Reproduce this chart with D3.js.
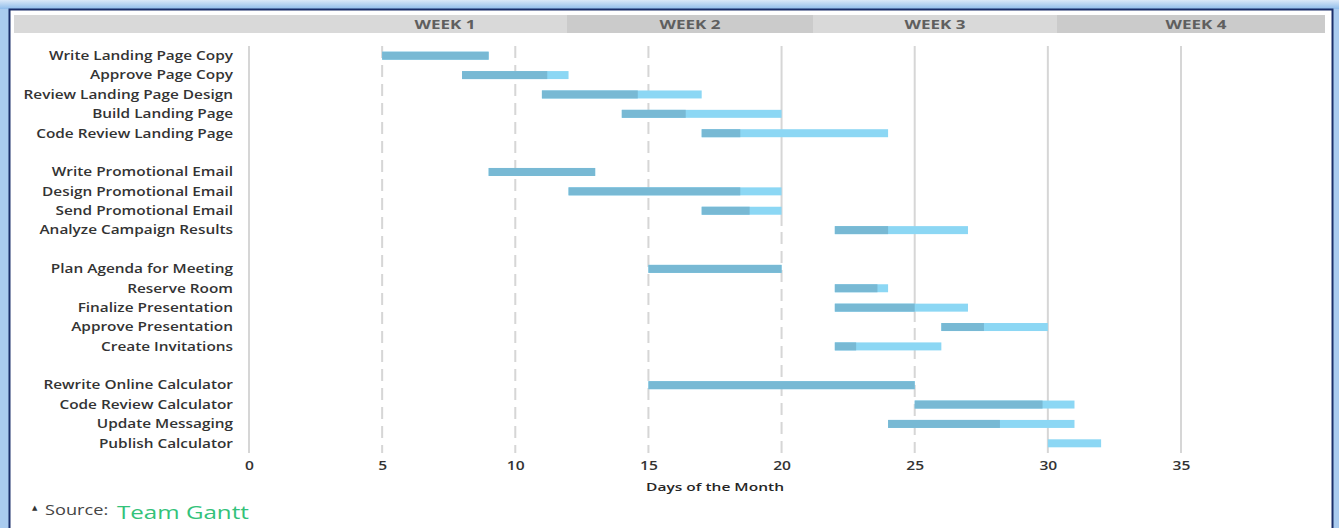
<!DOCTYPE html>
<html>
<head>
<meta charset="utf-8">
<script src="https://cdn.jsdelivr.net/npm/d3@7"></script>
<style>
  html, body { margin: 0; padding: 0; background: #ffffff; }
  svg { display: block; }
  text { font-family: "Open Sans", "DejaVu Sans", sans-serif; }
</style>
</head>
<body>
<script>
// ---------- DATA ----------
const tasks = [
  "Write Landing Page Copy", "Approve Page Copy", "Review Landing Page Design",
  "Build Landing Page", "Code Review Landing Page", "",
  "Write Promotional Email", "Design Promotional Email", "Send Promotional Email",
  "Analyze Campaign Results", " ",
  "Plan Agenda for Meeting", "Reserve Room", "Finalize Presentation",
  "Approve Presentation", "Create Invitations", "  ",
  "Rewrite Online Calculator", "Code Review Calculator", "Update Messaging",
  "Publish Calculator"
];
// start day, day where completed part ends, end day (null for spacer rows)
const startDay = [5, 8, 11, 14, 17, null, 9, 12, 17, 22, null, 15, 22, 22, 26, 22, null, 15, 25, 24, 30];
const doneDay  = [9, 11.2, 14.6, 16.4, 18.45, null, 13, 18.45, 18.8, 24, null, 20, 23.6, 25, 27.6, 22.8, null, 25, 29.8, 28.2, 30];
const endDay   = [9, 12, 17, 20, 24, null, 13, 20, 20, 27, null, 20, 24, 27, 30, 26, null, 25, 31, 31, 32];
const xTicks = [0, 5, 10, 15, 20, 25, 30, 35];
const weekLabels = ["WEEK 1", "WEEK 2", "WEEK 3", "WEEK 4"];
const axisTitle = "Days of the Month";
const sourceLabel = "Source:";
const sourceName = "Team Gantt";

// ---------- LAYOUT ----------
const W = 1339, H = 528;
const svg = d3.select("body").append("svg").attr("width", W).attr("height", H);

// helper: horizontally stretched text (the reference text is drawn wide)
function wideText(g, px, py, str, sx, anchor) {
  return g.append("text").attr("x", 0).attr("y", 0)
    .attr("transform", `translate(${px},${py}) scale(${sx},1)`)
    .attr("text-anchor", anchor || "start").text(str);
}

// outer glow frame
const defs = svg.append("defs");
const grad = defs.append("linearGradient").attr("id", "glowTop").attr("x1", 0).attr("y1", 0).attr("x2", 0).attr("y2", 1);
grad.append("stop").attr("offset", "0%").attr("stop-color", "#dbe9f8");
grad.append("stop").attr("offset", "100%").attr("stop-color", "#8fbdeb");
svg.append("rect").attr("x", 0).attr("y", 0).attr("width", W).attr("height", H).attr("fill", "#a9cbef");
svg.append("rect").attr("x", 0).attr("y", 0).attr("width", W).attr("height", 9).attr("fill", "url(#glowTop)");
svg.append("rect").attr("x", 9.5).attr("y", 9.5).attr("width", 1323).attr("height", H + 10)
  .attr("fill", "#ffffff").attr("stroke", "#1a2f6b").attr("stroke-width", 2);

// header band
const header = svg.append("g");
const hdrY = 15, hdrH = 18;
header.append("rect").attr("x", 14).attr("y", hdrY).attr("width", 1311).attr("height", hdrH).attr("fill", "#d9d9d9");
const weekStarts = [323, 567, 813, 1057];
const weekEnds = [567, 813, 1057, 1325];
weekLabels.forEach((w, i) => {
  header.append("rect").attr("x", weekStarts[i]).attr("y", hdrY)
    .attr("width", weekEnds[i] - weekStarts[i]).attr("height", hdrH)
    .attr("fill", i % 2 === 0 ? "#d9d9d9" : "#cbcbcb");
  wideText(header, i === 3 ? 1196 : (weekStarts[i] + weekEnds[i]) / 2, hdrY + 13.5, w, 1.36, "middle")
    .attr("font-size", 12.5).attr("font-weight", 700).attr("fill", "#5f5f5f");
});

// scales
const x = d3.scaleLinear().domain([0, 35]).range([249, 1181]);
const y = d3.scaleBand().domain(tasks).range([46, 453]).padding(0);
const plotTop = 46, plotBottom = 453;

// gridlines
const grid = svg.append("g");
const dashedFrom = { 5: plotTop, 10: plotTop, 15: plotTop, 20: 232, 25: 328 };
xTicks.forEach(t => {
  const df = dashedFrom[t];
  if (df === undefined) {
    grid.append("line").attr("x1", x(t)).attr("x2", x(t)).attr("y1", plotTop).attr("y2", plotBottom)
      .attr("stroke", "#d6d6d6").attr("stroke-width", 2);
  } else {
    if (df > plotTop) {
      grid.append("line").attr("x1", x(t)).attr("x2", x(t)).attr("y1", plotTop).attr("y2", df - 6)
        .attr("stroke", "#d6d6d6").attr("stroke-width", 2);
    }
    grid.append("line").attr("x1", x(t)).attr("x2", x(t)).attr("y1", df).attr("y2", plotBottom)
      .attr("stroke", "#d6d6d6").attr("stroke-width", 2).attr("stroke-dasharray", "12,7");
  }
});

// bars
const barH = 8;
const rows = tasks.map((t, i) => ({ t, s: startDay[i], d: doneDay[i], e: endDay[i] })).filter(r => r.s !== null);
const bars = svg.append("g");
bars.selectAll(".rem").data(rows).enter().append("rect")
  .attr("x", r => x(r.s)).attr("y", r => y(r.t) + y.bandwidth() / 2 - barH / 2)
  .attr("width", r => x(r.e) - x(r.s)).attr("height", barH).attr("fill", "#8cd7f4");
bars.selectAll(".done").data(rows.filter(r => r.d > r.s)).enter().append("rect")
  .attr("x", r => x(r.s)).attr("y", r => y(r.t) + y.bandwidth() / 2 - barH / 2)
  .attr("width", r => x(r.d) - x(r.s)).attr("height", barH).attr("fill", "#78b9d4");

// y labels
const yAxis = d3.axisLeft(y).tickSize(0).tickPadding(0).tickFormat(d => d.trim());
const yg = svg.append("g").attr("transform", "translate(233,0)").call(yAxis);
yg.select(".domain").remove();
yg.selectAll("text").attr("font-size", 12.3).attr("font-weight", 600).attr("fill", "#333333")
  .attr("dy", "0.35em").attr("transform", "scale(1.25,1)")
  .style("font-family", "'Open Sans', sans-serif");

// x axis
const xAxis = d3.axisBottom(x).tickValues(xTicks).tickSize(0).tickPadding(0);
const xg = svg.append("g").attr("transform", "translate(0,461)").call(xAxis);
xg.select(".domain").remove();
xg.selectAll("text").attr("font-size", 12).attr("font-weight", 600).attr("fill", "#333333")
  .style("font-family", "'Open Sans', sans-serif").attr("dy", "0.71em").attr("transform", "scale(1.3,1)");

wideText(svg, x(17.5), 491, axisTitle, 1.35, "middle")
  .attr("font-size", 11.5).attr("font-weight", 600).attr("fill", "#262626");

// source
svg.append("text").attr("x", 32).attr("y", 510).attr("font-size", 7).attr("fill", "#333").text("▲");
wideText(svg, 45, 515, sourceLabel, 1.3, "start").attr("font-size", 14).attr("fill", "#444444");
wideText(svg, 117, 519, sourceName, 1.38, "start").attr("font-size", 17.5).attr("fill", "#33c27a");
</script>
</body>
</html>
